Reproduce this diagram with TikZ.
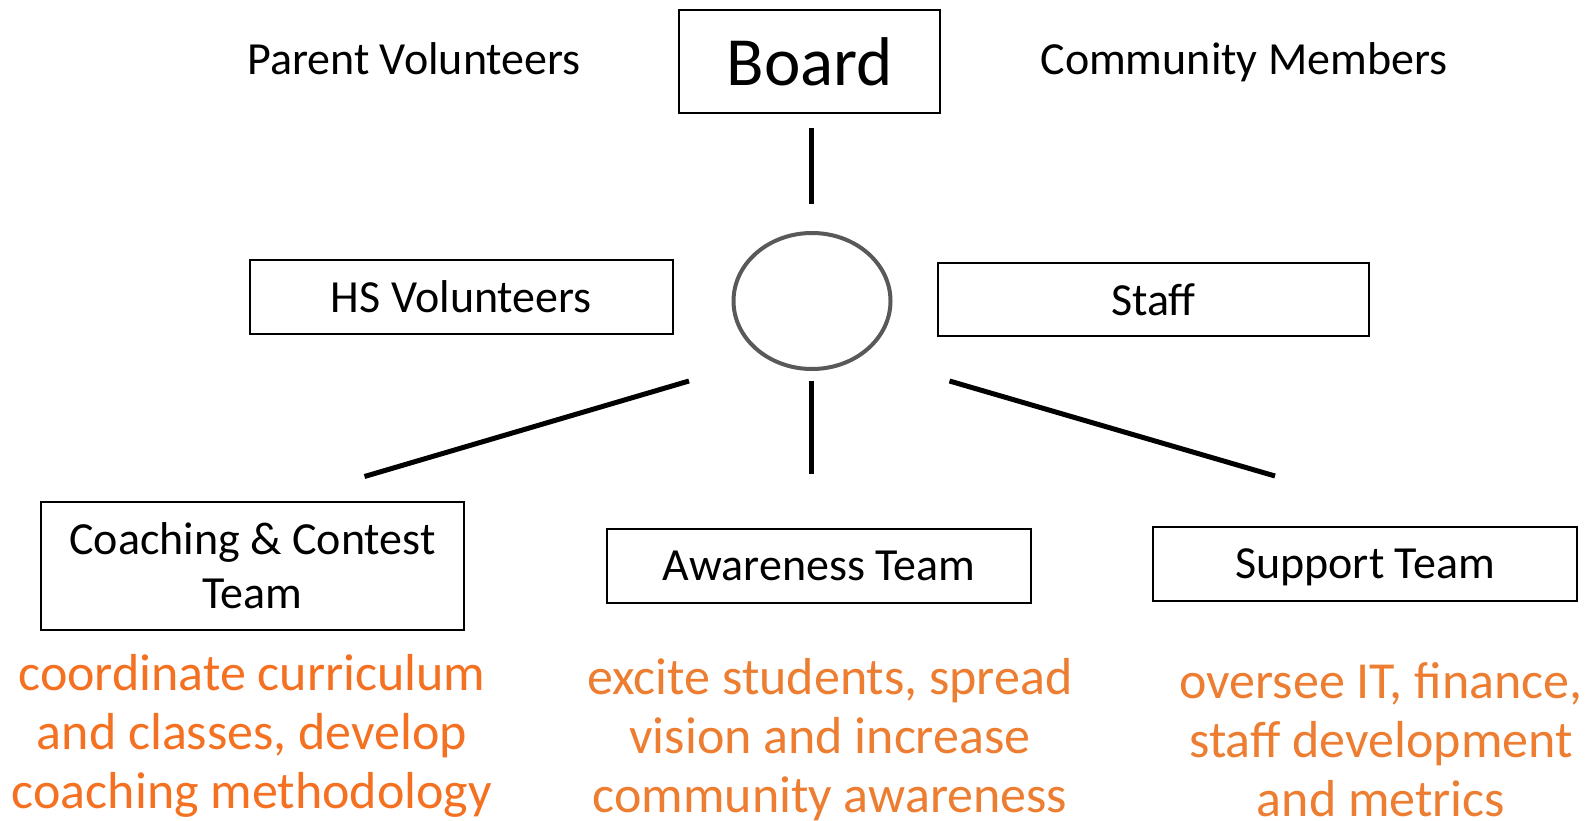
\documentclass[tikz,border=0pt]{standalone}
\usepackage{fontspec}
\setmainfont{Carlito}
\usetikzlibrary{shapes.geometric}
\definecolor{orgA}{RGB}{245,113,34}
\definecolor{orgB}{RGB}{237,125,49}
\definecolor{ringgray}{RGB}{89,89,89}
\tikzset{
  box/.style={draw=black, line width=1.6pt, inner sep=0pt, align=center, text depth=0pt,
    font=\fontsize{46}{54}\selectfont},
  toplabel/.style={inner sep=0pt, anchor=base, font=\fontsize{46}{54}\selectfont},
  note/.style={inner sep=0pt, align=center, font=\fontsize{52}{59}\selectfont},
  conn/.style={line width=5pt, black},
}
\begin{document}
\begin{tikzpicture}[x=1pt,y=-1pt]
\useasboundingbox[fill=white] (0,0) rectangle (1589,821);

\node[box, minimum width=261pt, minimum height=103pt, font=\fontsize{69}{80}\selectfont] (board) at (809.7,61.5) {Board};
\node[toplabel] (parents) at (414,75) {Parent Volunteers};
\node[toplabel] (community) at (1244,75) {Community Members};

\node[ellipse, draw=ringgray, line width=4pt, minimum width=157pt, minimum height=136pt, inner sep=0pt] (hub) at (812,301) {};

\node[box, minimum width=423pt, minimum height=74pt] (hs) at (461.5,297) {HS Volunteers};
\node[box, minimum width=431pt, minimum height=73pt] (staff) at (1153.5,299.5) {Staff};

\node[box, minimum width=423pt, minimum height=128pt] (coach) at (252.5,566) {Coaching \& Contest\\Team};
\node[box, minimum width=424pt, minimum height=74pt] (aware) at (819,566) {Awareness Team};
\node[box, minimum width=424pt, minimum height=74pt] (support) at (1365,564) {Support Team};

\node[note, text=orgA] (coachnote) at (252,736) {coordinate curriculum\\and classes, develop\\coaching methodology};
\node[note, text=orgB] (awarenote) at (830,740) {excite students, spread\\vision and increase\\community awareness};
\node[note, text=orgB] (supportnote) at (1381,740) {oversee IT, finance,\\staff development\\and metrics};

\coordinate (topA) at (811.7,128);
\coordinate (topB) at (811.7,204);
\coordinate (midA) at (811,381);
\coordinate (midB) at (811,474);
\coordinate (leftA) at (689,381);
\coordinate (leftB) at (364.5,476.5);
\coordinate (rightA) at (949.5,381);
\coordinate (rightB) at (1275,476);

\draw[conn] (topA) -- (topB);
\draw[conn] (midA) -- (midB);
\draw[conn] (leftA) -- (leftB);
\draw[conn] (rightA) -- (rightB);
\end{tikzpicture}
\end{document}
